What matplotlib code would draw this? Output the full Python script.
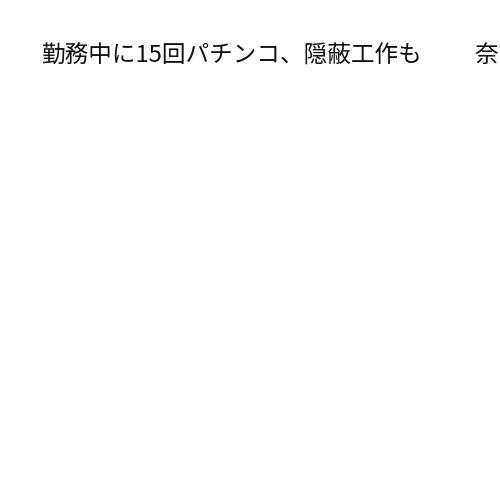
import matplotlib
matplotlib.use("Agg")
import matplotlib.pyplot as plt

plt.rcParams['font.family'] = ['Noto Sans CJK JP', 'DejaVu Sans']

headline = "勤務中に15回パチンコ、隠蔽工作も"
next_headline = "奈"

fig = plt.figure(figsize=(5, 5), dpi=100)
fig.patch.set_facecolor('white')
fig.text(41 / 500, 1 - 62 / 500, headline, fontsize=17, color='#111111',
         ha='left', va='baseline')
fig.text(474 / 500, 1 - 62 / 500, next_headline, fontsize=17, color='#111111',
         ha='left', va='baseline')
fig.savefig("out.png", dpi=100, facecolor='white')
